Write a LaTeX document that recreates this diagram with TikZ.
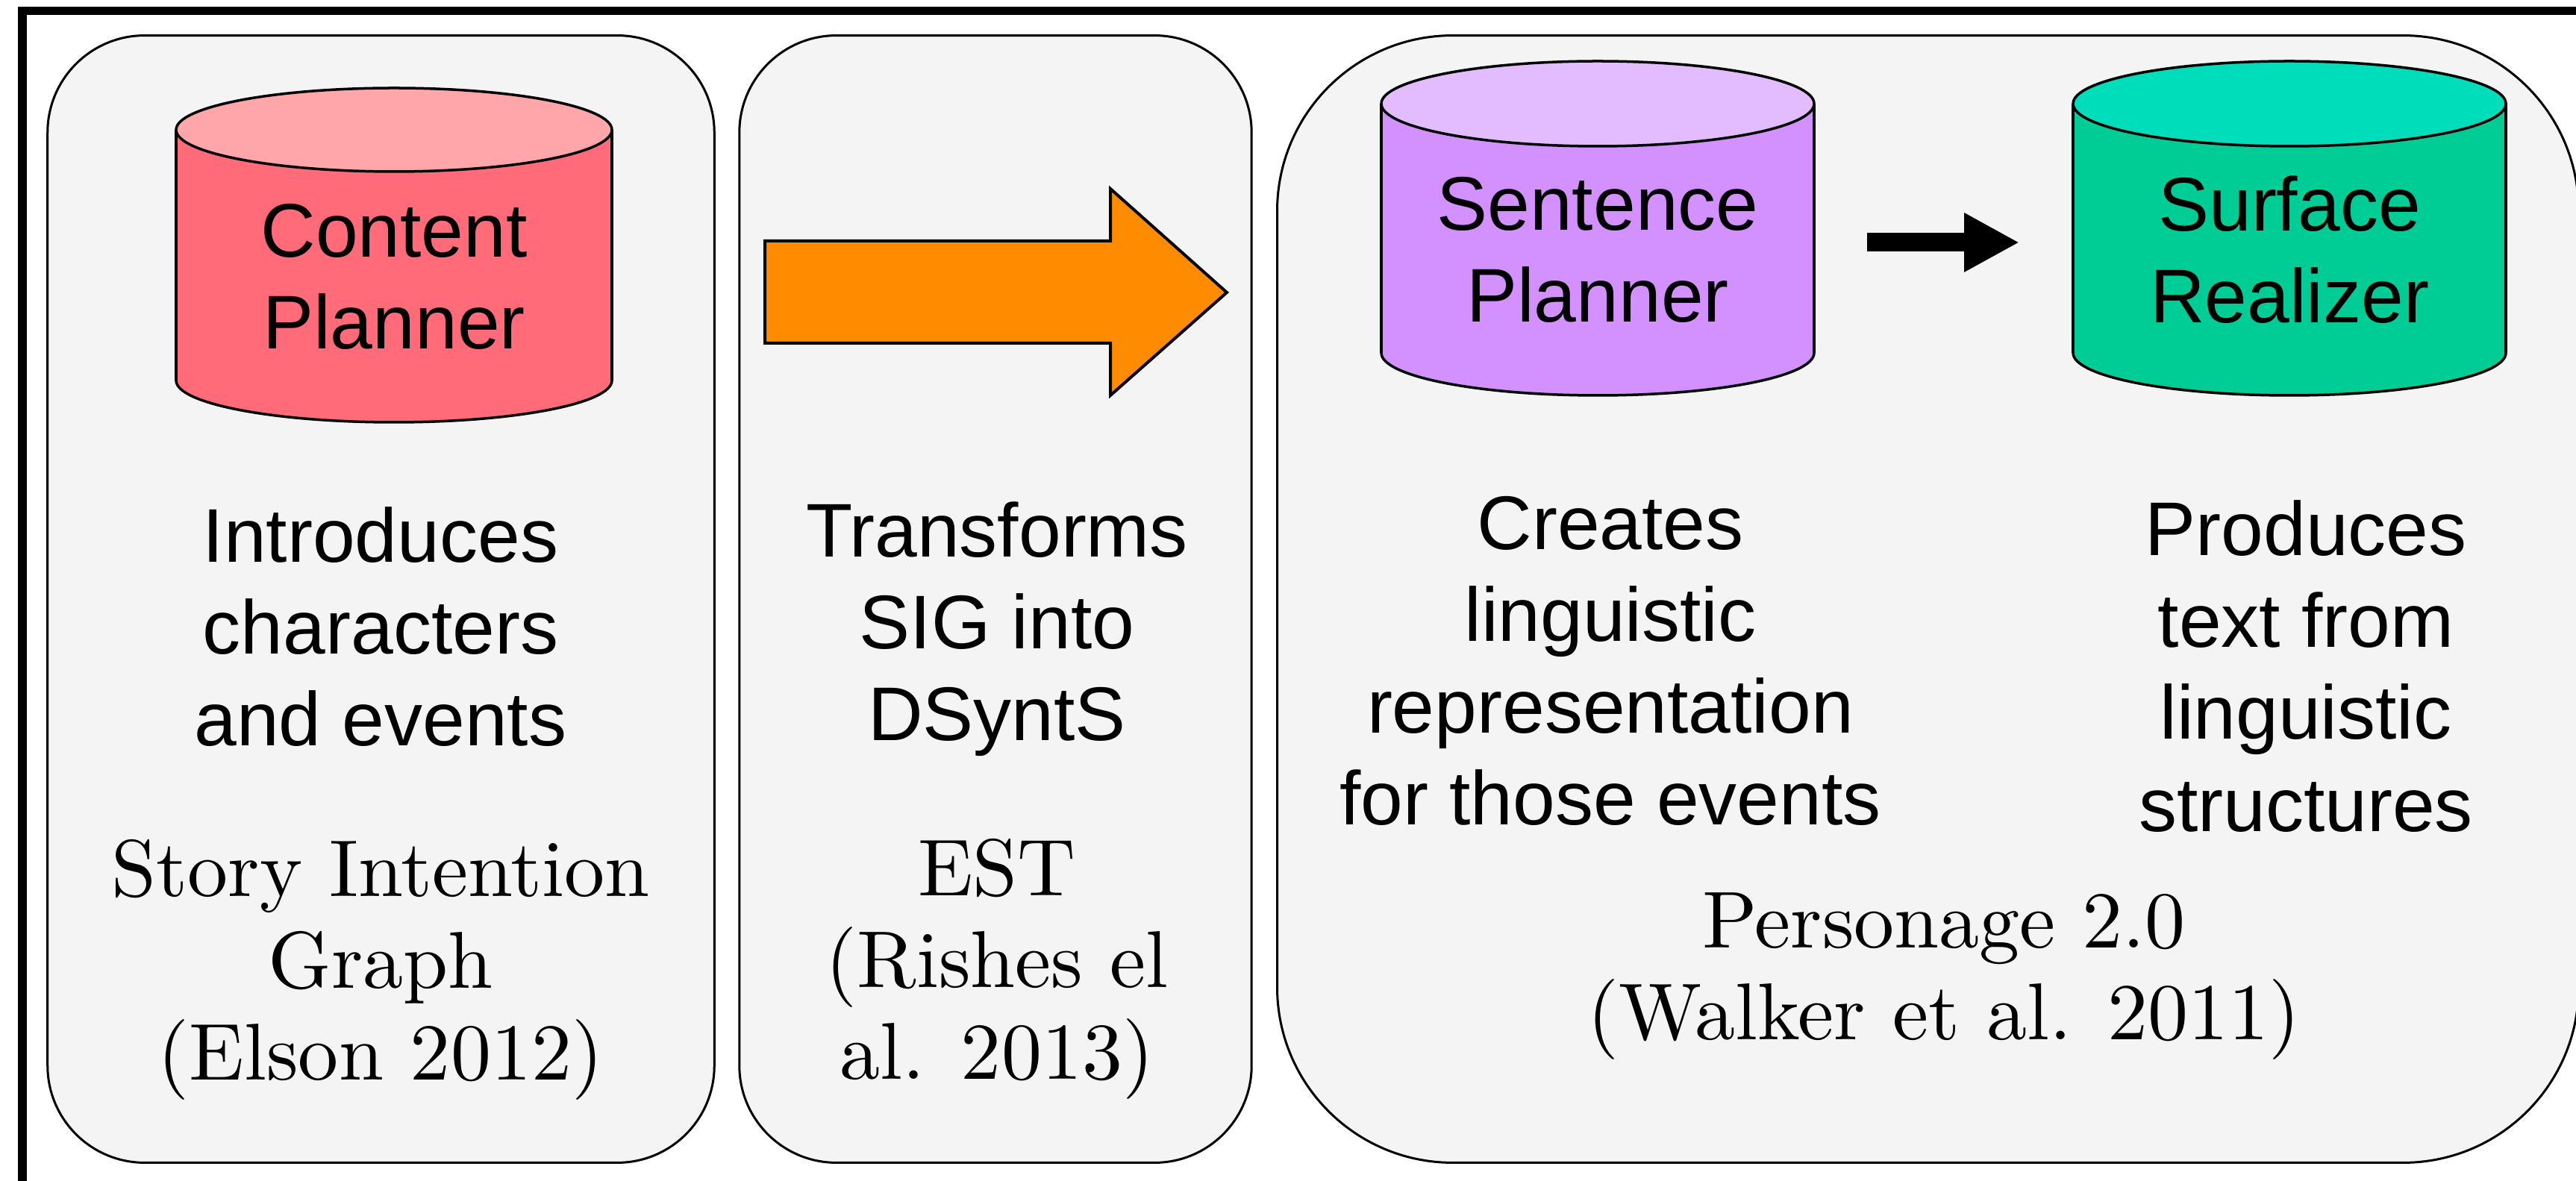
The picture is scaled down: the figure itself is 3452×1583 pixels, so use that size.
\documentclass[tikz,border=0pt]{standalone}
\usepackage{graphicx}
\usepackage{fontspec}
\newfontfamily\sansfont{Liberation Sans}
\usetikzlibrary{arrows.meta}
\definecolor{panelfill}{HTML}{F4F4F4}
\definecolor{cpbody}{HTML}{FF6B78}
\definecolor{cptop}{HTML}{FFA6AB}
\definecolor{spbody}{HTML}{D291FF}
\definecolor{sptop}{HTML}{E2BCFF}
\definecolor{srbody}{HTML}{00CC96}
\definecolor{srtop}{HTML}{00DDBB}
\definecolor{orangearrow}{HTML}{FF8C00}
% #1 cx, #2 top centre y, #3 bottom centre y, #4 rx (px), #5 ry (px), #6 body colour, #7 top colour
\newcommand\drawcyl[7]{%
  \fill[#6] (#1,#3) ellipse [x radius={#4*0.01cm}, y radius={#5*0.01cm}];
  \fill[#6] ({#1-#4},#2) rectangle ({#1+#4},#3);
  \begin{scope}
    \clip ({#1-#4-20},#3) rectangle ({#1+#4+20},{#3+#5+20});
    \draw[cylline] (#1,#3) ellipse [x radius={#4*0.01cm}, y radius={#5*0.01cm}];
  \end{scope}
  \draw[cylline] ({#1-#4},#2) -- ({#1-#4},#3);
  \draw[cylline] ({#1+#4},#2) -- ({#1+#4},#3);
  \draw[cylline, fill=#7] (#1,#2) ellipse [x radius={#4*0.01cm}, y radius={#5*0.01cm}];
}
% serif reference text: 10pt design of Latin Modern, scaled up
\newcommand\reftext[1]{\scalebox{3.073}{\fontsize{10}{11.39}\selectfont\addfontfeatures{FakeBold=2.5}\begin{tabular}{@{}c@{}}#1\end{tabular}}}
\begin{document}
\begin{tikzpicture}[x=0.01cm, y=-0.01cm,
  panel/.style={draw, line width=0.03cm, fill=panelfill, rounded corners=1.3cm, inner sep=0pt},
  cylline/.style={line width=0.035cm},
  sanstxt/.style={font=\sansfont\fontsize{29}{35}\selectfont, align=center, inner sep=0pt},
  seriftxt/.style={inner sep=0pt},
  blockarrow/.style={draw, line width=0.04cm, fill=orangearrow, line join=miter},
  flowarrow/.style={line width=0.25cm, -{Triangle[length=0.74cm, width=0.74cm]}}
]
\useasboundingbox (0,0) rectangle (3452,1583);
\clip (0,0) rectangle (3452,1583);
\fill[white] (0,0) rectangle (3452,1583);
% outer frame
\draw[line width=0.11cm] (30,15) rectangle (3600,1700);
% panels
\node[panel, minimum width=8.93cm, minimum height=15.10cm] (p1) at (510.5,803) {};
\node[panel, minimum width=6.86cm, minimum height=15.10cm] (p2) at (1334,803) {};
\node[panel, rounded corners=2.35cm, minimum width=17.43cm, minimum height=15.10cm] (p3) at (2583.5,803) {};
% cylinders
\drawcyl{528}{174}{510}{292}{56}{cpbody}{cptop}
\drawcyl{2141}{139}{473}{290}{57}{spbody}{sptop}
\drawcyl{3068}{139}{473}{290}{57}{srbody}{srtop}
\node[sanstxt, minimum width=5.84cm] (cp) at (528,371) {Content\\Planner};
\node[sanstxt, minimum width=5.80cm] (sp) at (2141,335) {Sentence\\Planner};
\node[sanstxt, minimum width=5.80cm] (sr) at (3068,335) {Surface\\Realizer};
% orange block arrow
\draw[blockarrow] (1025,323) -- (1488,323) -- (1488,253) -- (1644,392) -- (1488,530) -- (1488,460) -- (1025,460) -- cycle;
% flow arrow between sentence planner and surface realizer
\draw[flowarrow, shorten <=0.70cm, shorten >=0.71cm] ([yshift=0.1cm]sp.east) -- ([yshift=0.1cm]sr.west);
% descriptions
\node[sanstxt] (d1) at (510,840) {Introduces\\characters\\and events};
\node[seriftxt] (r1) at (510,1300) {\reftext{Story Intention\\Graph\\(Elson 2012)}};
\node[sanstxt] (d2) at (1336,843) {Transforms\\SIG into\\DSyntS};
\node[seriftxt] (r2) at (1336,1299) {\reftext{EST\\(Rishes el\\al. 2013)}};
\node[sanstxt] (d3) at (2158,886) {Creates\\linguistic\\representation\\for those events};
\node[sanstxt] (d4) at (3090,893) {Produces\\text from\\linguistic\\structures};
\node[seriftxt] (r3) at (2605,1307) {\reftext{Personage 2.0\\(Walker et al. 2011)}};
\end{tikzpicture}
\end{document}
